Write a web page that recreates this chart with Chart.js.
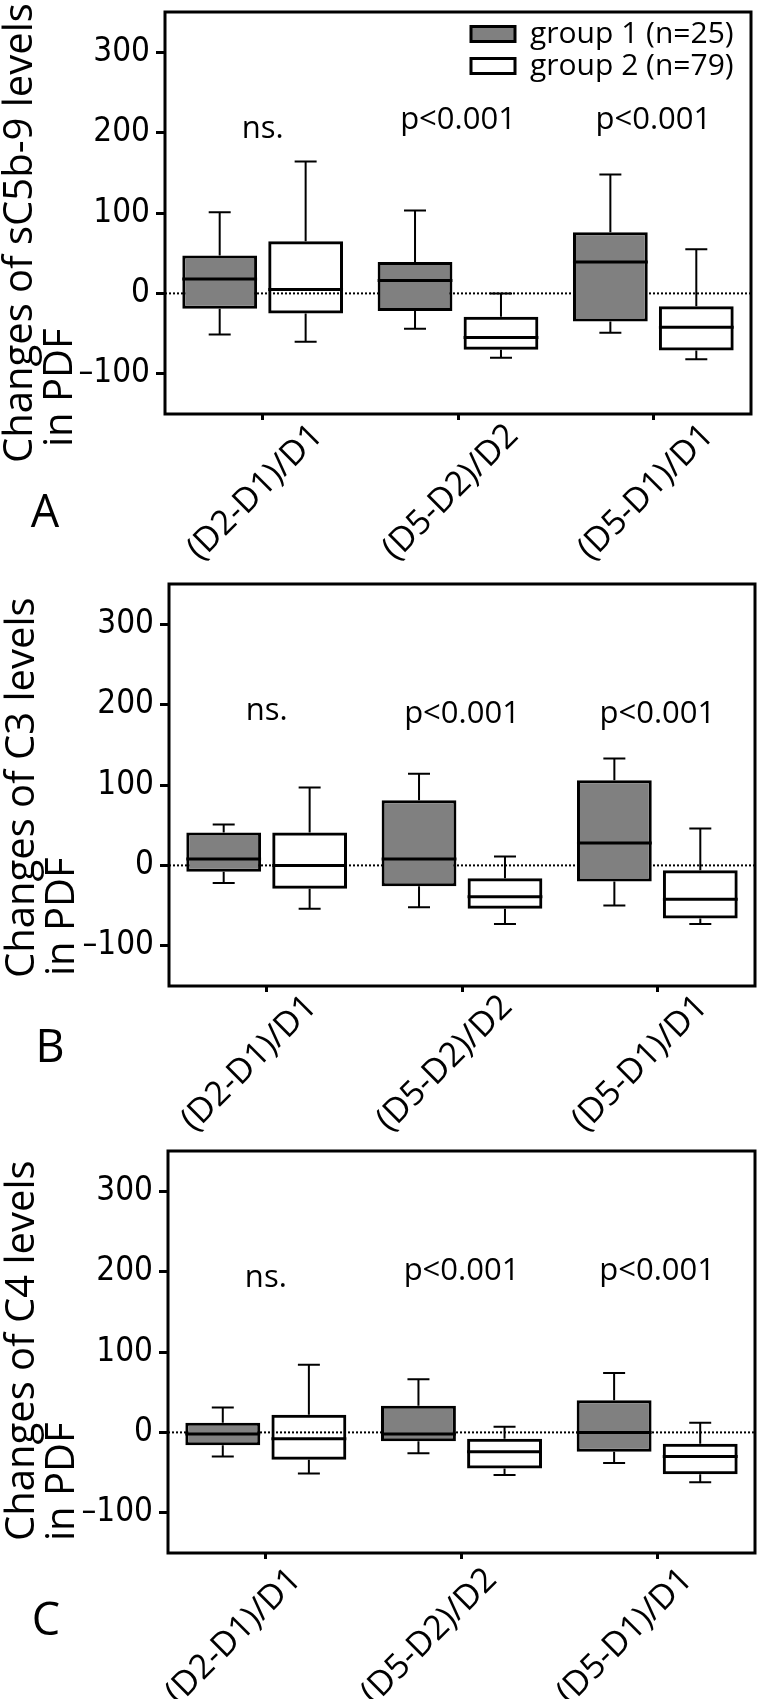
<!DOCTYPE html>
<html>
<head>
<meta charset="utf-8">
<script src="https://cdn.jsdelivr.net/npm/chart.js@4.4.1/dist/chart.umd.min.js"></script>
<style>
  html, body { margin: 0; padding: 0; background: #fff; }
  #wrap { position: relative; width: 758px; height: 1699px; overflow: hidden; }
  canvas { position: absolute; left: 0; }
</style>
</head>
<body>
<div id="wrap">
  <canvas id="chartA" width="758" height="600" style="top:0"></canvas>
  <canvas id="chartB" width="758" height="600" style="top:565px"></canvas>
  <canvas id="chartC" width="758" height="569" style="top:1130px"></canvas>
</div>
<script>
const categories = ['(D2-D1)/D1', '(D5-D2)/D2', '(D5-D1)/D1'];
const groupNames = ['group 1 (n=25)', 'group 2 (n=79)'];
const yTickValues = [-100, 0, 100, 200, 300];

// each entry: [min, q1, median, q3, max] for one category
const sc5b9Group1 = [[-51, -19, 18, 47, 101], [-44, -22, 16, 39, 103], [-49, -35, 39, 76, 148]];
const sc5b9Group2 = [[-60, -25, 5, 65, 164], [-80, -70, -55, -29, 0], [-82, -71, -42, -16, 55]];
const sc5b9Tests = ['ns.', 'p<0.001', 'p<0.001'];

const c3Group1 = [[-22, -8, 8, 41, 51], [-52, -26, 8, 81, 114], [-50, -20, 28, 106, 133]];
const c3Group2 = [[-54, -29, 0, 41, 97], [-73, -54, -39, -16, 11], [-73, -66, -42, -6, 46]];
const c3Tests = ['ns.', 'p<0.001', 'p<0.001'];

const c4Group1 = [[-30, -16, -2, 12, 31], [-26, -11, -2, 33, 66], [-38, -24, 0, 40, 74]];
const c4Group2 = [[-51, -34, -8, 22, 84], [-53, -45, -24, -8, 7], [-62, -52, -30, -14, 12]];
const c4Tests = ['ns.', 'p<0.001', 'p<0.001'];

Chart.defaults.font.family = '"Open Sans", sans-serif';
Chart.defaults.color = '#000';

const panels = [
  { id: 'chartA', h: 600, letter: 'A', title: ['Changes of sC5b-9 levels', 'in PDF'],
    g1: sc5b9Group1, g2: sc5b9Group2, tests: sc5b9Tests, testY: [193, 204, 204],
    area: { left: 165, right: 751, top: 12, bottom: 414 },
    titleX: [32, 72], titleY: [463, 447], letterAt: [45, 527],
    xOffset: 55, xPad: -4, legendAt: [469, 17] },
  { id: 'chartB', h: 600, letter: 'B', title: ['Changes of C3 levels', 'in PDF'],
    g1: c3Group1, g2: c3Group2, tests: c3Tests, testY: [181, 177, 177],
    area: { left: 169, right: 755, top: 19, bottom: 421 },
    titleX: [34, 74], titleY: [413, 411], letterAt: [50, 497],
    xOffset: 45, xPad: -5, legendAt: null },
  { id: 'chartC', h: 569, letter: 'C', title: ['Changes of C4 levels', 'in PDF'],
    g1: c4Group1, g2: c4Group2, tests: c4Tests, testY: [181, 189, 189],
    area: { left: 168, right: 755, top: 21, bottom: 423 },
    titleX: [34, 74], titleY: [411, 411], letterAt: [46, 505],
    xOffset: 30, xPad: 1, legendAt: null }
];

function fmtTick(v) {
  return v < 0 ? '\u2013' + Math.abs(v) : String(v);
}

function boxDataset(label, stats, fill) {
  return {
    label: label,
    data: stats.map(s => [s[1], s[3]]),
    stats: stats,
    backgroundColor: fill,
    borderColor: '#000',
    borderWidth: 3,
    borderSkipped: false,
    categoryPercentage: 0.88,
    barPercentage: 0.87
  };
}

// whiskers, medians, zero line, frame and the loose text of one panel
function panelPlugin(p) {
  return {
    id: 'panel' + p.letter,
    afterLayout(chart) {
      const lg = chart.legend;
      if (!p.legendAt || !lg) return;
      lg.left = p.legendAt[0];
      lg.top = p.legendAt[1];
      lg.right = chart.chartArea.right;
      lg.bottom = chart.chartArea.bottom;
    },
    beforeDatasetsDraw(chart) {
      const { ctx, chartArea: a, scales: { y } } = chart;
      const y0 = y.getPixelForValue(0);
      ctx.save();
      ctx.strokeStyle = '#000';
      ctx.lineWidth = 2;
      ctx.setLineDash([2, 2]);
      ctx.beginPath();
      ctx.moveTo(a.left, y0);
      ctx.lineTo(a.right, y0);
      ctx.stroke();
      ctx.restore();
    },
    afterDatasetsDraw(chart) {
      const { ctx, scales: { y } } = chart;
      const cap = 11;
      ctx.save();
      ctx.strokeStyle = '#000';
      chart.data.datasets.forEach((ds, d) => {
        chart.getDatasetMeta(d).data.forEach((bar, j) => {
          const [lo, q1, med, q3, hi] = ds.stats[j];
          const { x, width } = bar.getProps(['x', 'width'], true);
          const yHi = y.getPixelForValue(hi), yLo = y.getPixelForValue(lo);
          ctx.lineWidth = 2;
          ctx.beginPath();
          ctx.moveTo(x, y.getPixelForValue(q3));
          ctx.lineTo(x, yHi);
          ctx.moveTo(x - cap, yHi);
          ctx.lineTo(x + cap, yHi);
          ctx.moveTo(x, y.getPixelForValue(q1));
          ctx.lineTo(x, yLo);
          ctx.moveTo(x - cap, yLo);
          ctx.lineTo(x + cap, yLo);
          ctx.stroke();
          const yMed = y.getPixelForValue(med);
          ctx.lineWidth = 3;
          ctx.beginPath();
          ctx.moveTo(x - width / 2, yMed);
          ctx.lineTo(x + width / 2, yMed);
          ctx.stroke();
        });
      });
      ctx.restore();
    },
    afterDraw(chart) {
      const { ctx, chartArea: a, scales: { x, y } } = chart;
      ctx.save();
      ctx.strokeStyle = '#000';
      ctx.lineWidth = 3;
      ctx.strokeRect(a.left, a.top, a.right - a.left, a.bottom - a.top);

      ctx.fillStyle = '#000';
      ctx.font = '31px "Open Sans"';
      ctx.textAlign = 'center';
      ctx.textBaseline = 'alphabetic';
      p.tests.forEach((t, j) => {
        ctx.fillText(t, x.getPixelForValue(j), y.getPixelForValue(p.testY[j]));
      });

      ctx.font = '40px "Open Sans"';
      ctx.textAlign = 'left';
      p.title.forEach((line, i) => {
        ctx.save();
        ctx.translate(p.titleX[i], p.titleY[i]);
        ctx.rotate(-Math.PI / 2);
        ctx.fillText(line, 0, 0);
        ctx.restore();
      });

      ctx.font = '45px "Open Sans"';
      ctx.textAlign = 'center';
      ctx.fillText(p.letter, p.letterAt[0], p.letterAt[1]);
      ctx.restore();
    }
  };
}

panels.forEach(p => {
  const ctx = document.getElementById(p.id).getContext('2d');
  new Chart(ctx, {
    type: 'bar',
    data: {
      labels: categories,
      datasets: [
        boxDataset(groupNames[0], p.g1, '#808080'),
        boxDataset(groupNames[1], p.g2, 'rgba(255,255,255,0)')
      ]
    },
    options: {
      responsive: false,
      animation: false,
      events: [],
      layout: { padding: { left: 0, top: p.area.top, right: 758 - p.area.right, bottom: 0 } },
      plugins: {
        tooltip: { enabled: false },
        legend: {
          display: !!p.legendAt,
          position: 'chartArea',
          align: 'start',
          labels: {
            boxWidth: 44,
            boxHeight: 15,
            padding: 2,
            color: '#000',
            font: { size: 30 }
          }
        }
      },
      scales: {
        x: {
          grid: { drawOnChartArea: false, offset: false, tickLength: 6, tickWidth: 3, tickColor: '#000' },
          border: { display: false },
          ticks: {
            minRotation: 45,
            maxRotation: 45,
            labelOffset: p.xOffset,
            padding: p.xPad,
            font: { size: 34 }
          },
          afterFit(scale) {
            scale.height = p.h - p.area.bottom;
            scale.paddingLeft = 0;
            scale.paddingRight = 0;
          }
        },
        y: {
          min: -150,
          max: 350,
          grid: { drawOnChartArea: false, tickLength: 9, tickWidth: 3, tickColor: '#000' },
          border: { display: false },
          afterBuildTicks(scale) {
            scale.ticks = yTickValues.map(v => ({ value: v }));
          },
          ticks: {
            padding: 6,
            font: { family: '"Liberation Sans Narrow", "DejaVu Sans Condensed", Roboto, sans-serif', size: 33 },
            callback: v => fmtTick(v)
          },
          afterFit(scale) {
            scale.width = p.area.left;
            scale.paddingTop = 0;
            scale.paddingBottom = 0;
          }
        }
      }
    },
    plugins: [panelPlugin(p)]
  });
});
</script>
</body>
</html>
